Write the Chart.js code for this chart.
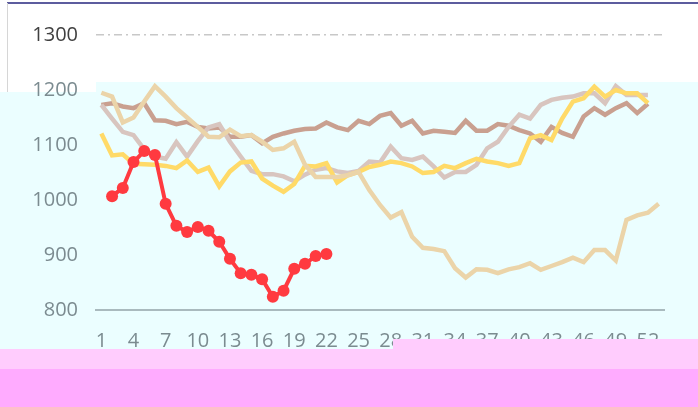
<!DOCTYPE html>
<html>
<head>
<meta charset="utf-8">
<script src="https://cdn.jsdelivr.net/npm/chart.js@4/dist/chart.umd.min.js"></script>
<style>
  html, body { margin: 0; padding: 0; background: #ffffff; }
  #c { display: block; }
</style>
</head>
<body>
<canvas id="c" width="698" height="407"></canvas>
<script>
// ---- data ----
const weeks = Array.from({length: 53}, (_, i) => String(i + 1));
const yTicks = [800, 900, 1000, 1100, 1200, 1300];

const seriesRed = [null,1007,1022,1069,1089,1082,993,953,942,951,944,924,893,867,864,856,824,835,875,884,898,902,
  null,null,null,null,null,null,null,null,null,null,null,null,null,null,null,null,null,null,null,null,null,null,null,null,null,null,null,null,null,null,null];

const seriesYellow = [1121,1081,1083,1066,1065,1064,1062,1058,1072,1051,1059,1025,1052,1068,1070,1039,1026,1015,1029,1062,
  1061,1067,1032,1045,1051,1060,1064,1070,1067,1061,1049,1051,1062,1058,1067,1075,1070,1067,1062,1067,
  1112,1118,1109,1148,1179,1185,1206,1188,1200,1194,1194,1176,null];

const seriesBrown = [1173,1176,1170,1167,1176,1145,1144,1138,1142,1133,1130,1132,1115,1115,1118,1103,1115,1121,1126,1129,
  1130,1141,1132,1127,1144,1138,1153,1158,1135,1144,1121,1126,1124,1122,1144,1126,1126,1138,1135,1127,
  1121,1106,1133,1122,1115,1152,1167,1155,1167,1176,1158,1175,null];

const seriesMauve = [1173,1148,1124,1118,1092,1079,1075,1105,1079,1107,1132,1138,1106,1079,1053,1047,1047,1043,1034,1046,
  1055,1058,1052,1049,1053,1070,1068,1097,1076,1073,1079,1061,1041,1051,1051,1064,1094,1106,1133,1155,
  1148,1173,1182,1186,1188,1194,1194,1176,1207,1191,1191,1191,null];

const seriesBeige = [1195,1188,1141,1150,1179,1207,1188,1167,1150,1133,1115,1114,1128,1116,1118,1106,1091,1094,1106,1064,
  1042,1042,1042,1045,1051,1018,991,968,978,933,913,911,907,876,859,874,873,867,874,878,
  885,873,880,887,895,887,909,909,890,964,972,977,993];

// ---- decoration plugin (background panels) ----
const panels = {
  id: 'panels',
  beforeDraw(chart) {
    const c = chart.ctx;
    c.save();
    c.fillStyle = '#ffffff';
    c.fillRect(0, 0, chart.width, chart.height);
    c.fillStyle = '#EBFEFF';
    c.fillRect(0, 92, 96, 257);
    c.fillRect(96, 82, chart.width - 96, 267);
    c.strokeStyle = '#5c5c9e';
    c.lineWidth = 2;
    c.beginPath(); c.moveTo(7, 3); c.lineTo(chart.width, 3); c.stroke();
    c.strokeStyle = '#d6d6d6';
    c.lineWidth = 1;
    c.beginPath(); c.moveTo(7.5, 3); c.lineTo(7.5, 92); c.stroke();
    c.restore();
  },
  afterDraw(chart) {
    const c = chart.ctx;
    c.save();
    c.fillStyle = '#FFCCFD';
    c.fillRect(0, 349, chart.width, 20);
    c.fillRect(393, 339, chart.width - 393, 10);
    c.fillStyle = '#FFABFF';
    c.fillRect(0, 369, chart.width, chart.height - 369);
    c.restore();
  }
};

new Chart(document.getElementById('c'), {
  type: 'line',
  data: {
    labels: weeks,
    datasets: [
      { label: 'S5', data: seriesRed, borderColor: '#FF3A40', backgroundColor: '#FF3A40', borderWidth: 4,
        pointRadius: 6, pointHoverRadius: 6, pointBackgroundColor: '#FF3A40', pointBorderWidth: 0, tension: 0 },
      { label: 'S4', data: seriesBeige, borderColor: '#EBD4A9', borderWidth: 4.5, pointRadius: 0, tension: 0 },
      { label: 'S3', data: seriesYellow, borderColor: '#FFDA68', borderWidth: 4.5, pointRadius: 0, tension: 0 },
      { label: 'S2', data: seriesMauve, borderColor: '#D8C5BF', borderWidth: 4.5, pointRadius: 0, tension: 0 },
      { label: 'S1', data: seriesBrown, borderColor: '#C9A090', borderWidth: 4.5, pointRadius: 0, tension: 0 }
    ]
  },
  options: {
    responsive: false,
    devicePixelRatio: 1,
    animation: false,
    layout: { padding: { left: 0, right: 34, top: 35, bottom: 0 } },
    plugins: { legend: { display: false }, tooltip: { enabled: false } },
    scales: {
      x: {
        offset: true,
        grid: { display: false, drawTicks: false },
        border: { display: true, color: '#A9BABE', width: 2 },
        ticks: {
          autoSkip: false, maxRotation: 0, minRotation: 0, padding: 19,
          color: '#7B8B90',
          font: { family: 'Open Sans', size: 20 },
          callback: (v, i) => (i % 3 === 0 ? weeks[i] : '')
        },
        afterFit: s => { s.height = 97; }
      },
      y: {
        min: yTicks[0], max: yTicks[yTicks.length - 1],
        afterBuildTicks: s => { s.ticks = yTicks.map(v => ({ value: v })); },
        grid: {
          drawTicks: false,
          lineWidth: 1.5,
          color: ctx => (ctx.tick && ctx.tick.value === 1300 ? '#C8C8C8' : 'rgba(0,0,0,0)')
        },
        border: { display: false, dash: [8, 4, 2, 4] },
        ticks: {
          padding: 18,
          font: { family: 'Open Sans', size: 20 },
          color: ctx => (ctx.tick && ctx.tick.value === 1300 ? '#404040' : '#7B8B90'),
          callback: v => String(v)
        },
        afterFit: s => { s.width = 96; }
      }
    }
  },
  plugins: [panels]
});
</script>
</body>
</html>
